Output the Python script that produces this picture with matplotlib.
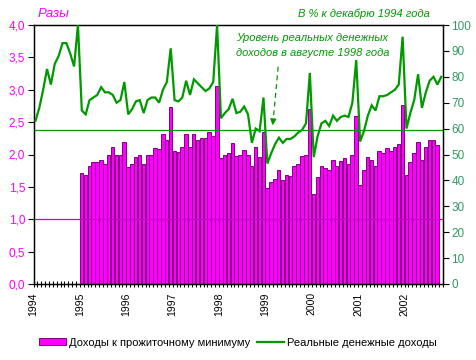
import matplotlib
matplotlib.use("Agg")
import matplotlib.pyplot as plt
import numpy as np
from matplotlib.patches import Patch
from matplotlib.lines import Line2D

plt.rcParams['font.family'] = ['Liberation Sans', 'DejaVu Sans']

# Year tick labels
years = ['1994', '1995', '1996', '1997', '1998', '1999', '2000', '2001', '2002']

# Real money incomes, % of December 1994 (monthly, Jan 1994 - Oct 2002)
real_income = [
    63, 68, 75, 83, 77, 85, 88, 93, 93, 89, 84, 100,          # 1994
    67, 65.5, 71, 72, 73, 76, 74, 74, 73, 70, 71, 78,         # 1995
    65.5, 67.5, 70.5, 71, 66, 71, 72, 72, 70, 75, 78, 91,     # 1996
    71, 70.5, 72, 78.5, 73, 79, 77.5, 76, 74.5, 75.5, 78, 100,  # 1997
    64, 66, 67.5, 71.5, 66, 66.5, 68.5, 65.5, 54.5, 60, 59, 72,  # 1998
    46.5, 50.5, 54, 56.5, 54.5, 56, 56, 57, 58.5, 59.5, 62, 81.5,  # 1999
    49, 57, 62, 63, 61, 65, 63, 64.5, 65, 64.5, 70, 86.5,     # 2000
    55, 59, 65, 69, 67, 72.5, 72.5, 73, 74, 75, 77, 95.5,     # 2001
    60, 66, 71, 81, 68, 74, 78.5, 80, 77, 80,                 # 2002
]

# Income to subsistence minimum ratio (monthly, Jan 1995 - Sep 2002)
income_ratio = [
    1.72, 1.68, 1.83, 1.88, 1.89, 1.91, 1.86, 2.00, 2.11, 2.00, 2.00, 2.19,  # 1995
    1.80, 1.86, 1.96, 2.00, 1.85, 1.99, 2.00, 2.10, 2.08, 2.31, 2.23, 2.73,  # 1996
    2.06, 2.04, 2.12, 2.31, 2.12, 2.31, 2.23, 2.25, 2.25, 2.34, 2.29, 3.06,  # 1997
    1.94, 2.00, 2.03, 2.17, 1.97, 2.00, 2.07, 2.00, 1.83, 2.11, 1.96, 2.34,  # 1998
    1.48, 1.57, 1.62, 1.76, 1.60, 1.68, 1.67, 1.83, 1.86, 1.97, 1.99, 2.70,  # 1999
    1.39, 1.65, 1.82, 1.79, 1.76, 1.92, 1.82, 1.90, 1.95, 1.86, 1.99, 2.59,  # 2000
    1.53, 1.76, 1.96, 1.91, 1.82, 2.06, 2.03, 2.10, 2.06, 2.11, 2.16, 2.76,  # 2001
    1.68, 1.88, 2.02, 2.19, 1.91, 2.11, 2.22, 2.22, 2.14,                    # 2002
]

aug1998_level = 59.5   # right axis
ratio_ref = 1.0        # left axis
bar_start_month = 12   # Jan 1995

GREEN = '#009900'
MAGENTA = '#FF00FF'
TEAL = '#339966'

fig = plt.figure(figsize=(4.77, 3.6), dpi=100)
ax = fig.add_axes([33.5 / 477, 76 / 360, 409.7 / 477, 259 / 360])
ax2 = ax.twinx()

n_months = len(real_income)
x_line = np.arange(n_months) + 0.5
x_bar = np.arange(len(income_ratio)) + bar_start_month + 0.45

ax.bar(x_bar, income_ratio, width=0.9, color=MAGENTA, edgecolor='#800080',
       linewidth=0.7, zorder=2)
ax.axhline(ratio_ref, color='#D000D0', lw=0.9, zorder=3)

ax2.axhline(aug1998_level, color=GREEN, lw=0.9, zorder=2)
ax2.plot(x_line, real_income, color=GREEN, lw=1.6, zorder=3,
         solid_joinstyle='miter', clip_on=True)

ax.set_xlim(0, n_months)
ax.set_ylim(0, 4.0)
ax2.set_ylim(0, 100)

# ticks
ax.set_xticks(np.arange(0, 12 * len(years), 12))
ax.set_xticklabels(years, rotation=90, fontsize=7.5)
ax.set_xticks(np.arange(0, n_months + 1), minor=True)
ax.tick_params(axis='x', which='both', direction='inout', length=4, width=0.8,
               pad=4)

yt = np.arange(0, 4.01, 0.5)
ax.set_yticks(yt)
ax.set_yticklabels([f"{v:.1f}".replace('.', ',') for v in yt])
ax.tick_params(axis='y', direction='out', length=4, width=0.8,
               labelcolor=MAGENTA, labelsize=8.5, pad=2)

rt = np.arange(0, 101, 10)
ax2.set_yticks(rt)
ax2.set_yticklabels([str(v) for v in rt])
ax2.tick_params(axis='y', direction='out', length=4, width=0.8,
                labelcolor=TEAL, labelsize=8.5, pad=2)

for a in (ax, ax2):
    for s in a.spines.values():
        s.set_color('black')
        s.set_linewidth(0.9)

# texts
fig.text(38 / 477, 1 - 14 / 360, 'Разы', color=MAGENTA, fontsize=9.5,
         style='italic', ha='left', va='center')
fig.text(430 / 477, 1 - 14 / 360, 'В % к декабрю 1994 года', color=GREEN,
         fontsize=8, style='italic', ha='right', va='center')
fig.text(236.5 / 477, 1 - 45.5 / 360,
         'Уровень реальных денежных\nдоходов в августе 1998 года',
         color=GREEN, fontsize=8, style='italic', ha='left', va='center',
         linespacing=1.55)

# dashed arrow
ax2.plot([63.3, 62.1], [83.9, 64.5], color=GREEN, lw=0.9, ls=(0, (4, 3)))
ax2.annotate('', xy=(61.8, 60.2), xytext=(62.1, 64.6),
             arrowprops=dict(arrowstyle='-|>', color=GREEN, lw=0.9,
                             mutation_scale=9))

handles = [Patch(facecolor=MAGENTA, edgecolor='#800080', linewidth=0.7),
           Line2D([0], [0], color=GREEN, lw=1.6)]
labels = ['Доходы к прожиточному минимуму', 'Реальные денежные доходы']
fig.legend(handles, labels, loc='center', bbox_to_anchor=(0.499, 1 - 342.5 / 360),
           ncol=2, frameon=False, fontsize=8, handlelength=2.4,
           handleheight=0.6, handletextpad=0.3, columnspacing=0.6)

fig.savefig('out.png', dpi=100)
